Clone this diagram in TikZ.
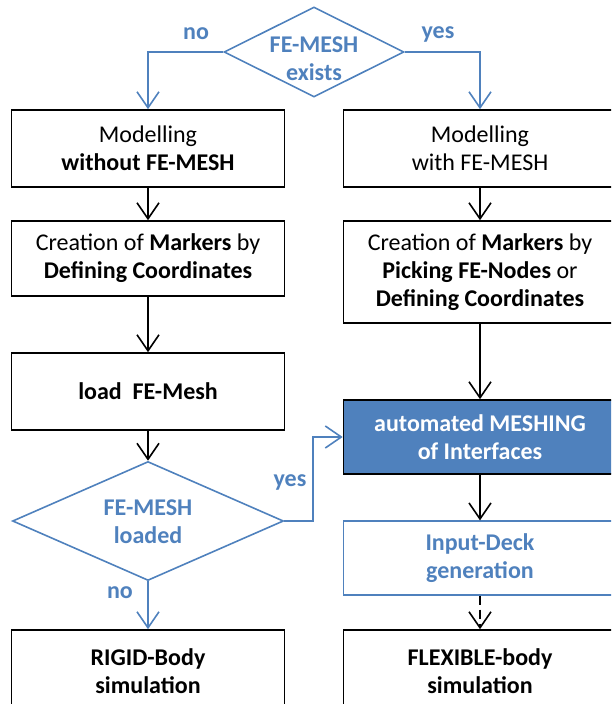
\documentclass[tikz,border=0pt]{standalone}
\usepackage{fontspec}
\setmainfont{Carlito}
\usetikzlibrary{arrows.meta,shapes.geometric}
\definecolor{ofblue}{HTML}{4F81BD}
\begin{document}
\begin{tikzpicture}[x=1pt,y=-1pt,
  txt/.style={font=\fontsize{24}{28}\selectfont, align=center},
  box/.style={txt, draw=black, line width=1.6pt, rectangle, inner sep=0pt,
              minimum width=273pt},
  bluebox/.style={box, draw=ofblue, line width=1.3pt, text=ofblue, font=\fontsize{24}{28}\selectfont\bfseries},
  fillbox/.style={box, fill=ofblue, text=white, font=\fontsize{24}{28}\selectfont\bfseries},
  decision/.style={diamond, draw=ofblue, line width=1.6pt, inner sep=0pt},
  dtext/.style={txt, text=ofblue, font=\fontsize{24}{28}\selectfont\bfseries},
  lbl/.style={dtext},
  arr/.style={line width=1.6pt, -{Straight Barb[length=16pt,width=22pt,line width=1.6pt]}},
  barr/.style={arr, draw=ofblue},
  karr/.style={arr, draw=black}
]
\useasboundingbox (0,0) rectangle (611,704);
\clip (0,0) rectangle (611,704);

% first decision
\node[decision, minimum width=180pt, minimum height=90pt] (d1) at (314,52) {};
\node[dtext] (d1t) at (314,59) {FE-MESH\\exists};

% left column
\node[box, minimum height=77pt] (l1) at (148,148.5) {Modelling\\\textbf{without FE-MESH}};
\node[box, minimum height=75pt] (l2) at (148,258.5) {Creation of \textbf{Markers} by\\\textbf{Defining Coordinates}};
\node[box, minimum height=77pt] (l3) at (148,391.5) {\textbf{load\ \ FE-Mesh}};
\node[decision, minimum width=271pt, minimum height=119pt] (d2) at (148,521) {};
\node[dtext] (d2t) at (148,522) {FE-MESH\\loaded};
\node[box, minimum height=82pt] (l4) at (148,671) {\textbf{RIGID-Body}\\\textbf{simulation}};

% right column
\node[box, minimum height=77pt] (r1) at (480,148.5) {Modelling\\with FE-MESH};
\node[box, minimum height=102pt] (r2) at (480,272) {Creation of \textbf{Markers} by\\\textbf{Picking FE-Nodes} or\\\textbf{Defining Coordinates}};
\node[fillbox, minimum height=74pt] (r3) at (480,437) {automated MESHING\\of Interfaces};
\node[bluebox, minimum height=74pt] (r4) at (480,558) {Input-Deck\\generation};
\node[box, minimum height=82pt] (r5) at (480,671) {\textbf{FLEXIBLE-body}\\\textbf{simulation}};

% branches of the first decision
\draw[barr] (d1.west) -| (l1.north);
\draw[barr] (d1.east) -| (r1.north);
\node[lbl] (no1) at (196,34) {no};
\node[lbl] (yes1) at (438,34) {yes};

% left flow
\draw[karr] (l1.south) -- (l2.north);
\draw[karr] (l2.south) -- (l3.north);
\draw[karr] (l3.south) -- (d2.north);
\draw[barr] (d2.south) -- (l4.north);
\node[lbl] (no2) at (120,593) {no};

% yes branch of the second decision
\coordinate (jog) at (313,437);
\draw[barr] (d2.east) -| (jog) -- (r3.west);
\node[lbl] (yes2) at (290,482) {yes};

% right flow
\draw[karr] (r1.south) -- (r2.north);
\draw[karr] (r2.south) -- (r3.north);
\draw[karr] (r3.south) -- (r4.north);
\draw[karr, dash pattern=on 9pt off 5pt] (r4.south) -- (r5.north);
\end{tikzpicture}
\end{document}
